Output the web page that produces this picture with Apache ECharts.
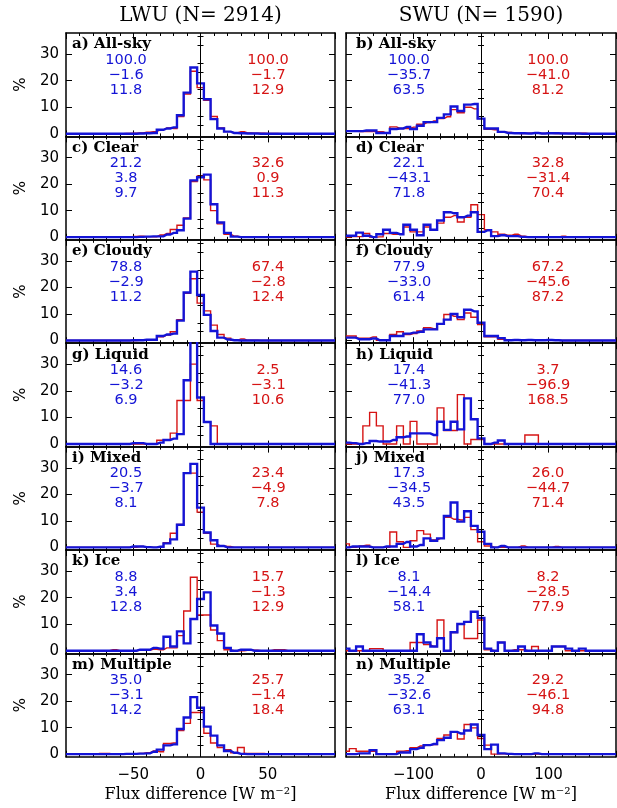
<!DOCTYPE html>
<html>
<head>
<meta charset="utf-8">
<script src="https://cdn.jsdelivr.net/npm/echarts@6.0.0/dist/echarts.min.js"></script>
<style>
html,body{margin:0;padding:0;background:#ffffff;}
#chart{width:617px;height:808px;}
</style>
</head>
<body>
<div id="chart"></div>
<script>
// ---------- bins / ticks ----------
const LW_BINS = [-100,-95,-90,-85,-80,-75,-70,-65,-60,-55,-50,-45,-40,-35,-30,-25,-20,-15,-10,-5,0,5,10,15,20,25,30,35,40,45,50,55,60,65,70,75,80,85,90,95,100];
const SW_BINS = [-200,-190,-180,-170,-160,-150,-140,-130,-120,-110,-100,-90,-80,-70,-60,-50,-40,-30,-20,-10,0,10,20,30,40,50,60,70,80,90,100,110,120,130,140,150,160,170,180,190,200];
const Y_MAJOR = [0,10,20,30];
const Y_MINOR = [3.333,6.667,13.333,16.667,23.333,26.667,33.333,36.667];
const COLUMN_TITLES = ['LWU (N= 2914)','SWU (N= 1590)'];
const X_TITLE = 'Flux difference [W m\u207B\u00B2]';

// ---------- panel texts ----------
const PANEL_LABELS = ['a) All-sky','b) All-sky','c) Clear','d) Clear','e) Cloudy','f) Cloudy','g) Liquid','h) Liquid','i) Mixed','j) Mixed','k) Ice','l) Ice','m) Multiple','n) Multiple'];
const BLUE_STATS = [
  ['100.0','-1.6','11.8'],['100.0','-35.7','63.5'],
  ['21.2','3.8','9.7'],['22.1','-43.1','71.8'],
  ['78.8','-2.9','11.2'],['77.9','-33.0','61.4'],
  ['14.6','-3.2','6.9'],['17.4','-41.3','77.0'],
  ['20.5','-3.7','8.1'],['17.3','-34.5','43.5'],
  ['8.8','3.4','12.8'],['8.1','-14.4','58.1'],
  ['35.0','-3.1','14.2'],['35.2','-32.6','63.1']
];
const RED_STATS = [
  ['100.0','-1.7','12.9'],['100.0','-41.0','81.2'],
  ['32.6','0.9','11.3'],['32.8','-31.4','70.4'],
  ['67.4','-2.8','12.4'],['67.2','-45.6','87.2'],
  ['2.5','-3.1','10.6'],['3.7','-96.9','168.5'],
  ['23.4','-4.9','7.8'],['26.0','-44.7','71.4'],
  ['15.7','-1.3','12.9'],['8.2','-28.5','77.9'],
  ['25.7','-1.4','18.4'],['29.2','-46.1','94.8']
];

// ---------- LWU histograms (% per bin, centres LW_BINS) ----------
const A_LW_BLUE = [0,0,0,0,0,0,0,0,0,0,0, 0.1,0.2,0.3,1.5,2,2.4,7,15.5,25,19, 13,5.5,2,0.8,0.3,0.2,0.1,0.1,0,0, 0,0,0,0,0,0,0,0,0,0];
const A_LW_RED  = [0,0,0,0,0,0,0,0,0,0.1,0.2, 0.3,0.6,0.8,1.5,2.2,2,6.5,15,23.6,17.4, 12.6,6.5,2.2,0.8,0.3,0.8,0.3,0.2,0.2,0.1, 0.1,0,0,0,0,0,0,0,0,0];
const C_LW_BLUE = [0,0,0,0,0,0,0,0,0,0,0, 0.1,0.2,0.3,0.3,1,1.6,2.6,7,21.4,22.6, 23.6,12.4,5.5,1.6,0.2,0,0,0,0,0, 0,0,0,0,0,0,0,0,0,0];
const C_LW_RED  = [0,0,0,0,0,0,0,0,0,0,0.3, 0.4,0.2,0.1,0.8,1.4,2.9,4.5,7.2,21,23, 21.6,10,5,1.1,0.4,0.1,0,0,0,0, 0,0,0,0,0,0,0,0,0,0];
const E_LW_BLUE = [0,0,0,0,0,0,0,0,0,0,0.1, 0.1,0.3,0.3,1.7,2.3,2.6,7.5,18.1,26,17.2, 9.7,3.6,1.1,0.4,0.1,0,0,0,0,0, 0,0,0,0,0,0,0,0,0,0];
const E_LW_RED  = [0,0,0,0,0,0,0,0,0,0,0, 0.1,0.1,0.1,1.4,2.1,3.3,7.9,17.8,23.3,14.1, 11.2,5.8,2.3,0.9,0.1,0.6,0.1,0.1,0,0, 0,0,0,0,0,0,0,0,0,0];
const G_LW_BLUE = [0,0,0,0,0,0,0,0,0,0,0.3, 0.3,0,0,0.5,1.5,2,3.7,24,39,17.5, 8.3,0,0,0,0,0,0,0,0,0, 0,0,0,0,0,0,0,0,0,0];
const G_LW_RED  = [0,0,0,0,0,0,0,0,0,0,0, 0,0,0,1.4,1.4,4.1,16.4,16.4,30.1,16.4, 8.2,6.8,0,0,0,0,0,0,0,0, 0,0,0,0,0,0,0,0,0,0];
const I_LW_BLUE = [0,0,0,0,0,0,0,0,0,0,0.3, 0.3,0.1,0,0.2,1.5,3,8.5,28,31.5,15, 5.6,2.7,0.5,0,0,0,0,0,0,0, 0,0,0,0,0,0,0,0,0,0];
const I_LW_RED  = [0,0,0,0,0,0,0,0,0,0,0, 0.3,0.1,0,0.2,1.8,5.3,8.6,28,28,13.3, 5.3,1.2,0.5,0.3,0,0,0,0,0,0, 0,0,0,0,0,0,0,0,0,0];
const K_LW_BLUE = [0,0,0,0,0,0,0,0,0,0,0, 0.4,0.4,1.1,0.8,5.3,1.6,7.3,2.8,12,19.5, 22,9.5,6.5,1.1,0,0.4,0.4,0,0,0, 0,0,0,0,0,0,0,0,0,0];
const K_LW_RED  = [0,0,0,0,0,0,0,0.4,0,0,0, 0.3,0.3,0.5,0.4,1.1,1.1,5.7,15,27.7,13.5, 13.5,7.8,3.8,0.4,0,0,0.2,0.2,0,0, 0.4,0.4,0,0,0,0,0,0,0,0];
const M_LW_BLUE = [0,0,0,0,0,0,0,0,0,0.1,0.1, 0.2,0.3,0.9,1.7,3.3,3.7,9.5,13.8,21.5,17.5, 10.4,7,3.3,1.2,0.5,0.1,0,0,0,0, 0,0,0,0,0,0,0,0,0,0];
const M_LW_RED  = [0,0,0,0,0,0.3,0.3,0,0,0,0.2, 0.3,0.5,1.2,0.9,4,4.2,8.9,11.6,15.7,15.7, 7.9,4.2,2.5,1.7,0.5,2.5,0.3,0.3,0.3,0.1, 0.1,0,0,0,0,0,0,0,0,0];

// ---------- SWU histograms (% per bin, centres SW_BINS) ----------
const B_SW_BLUE = [1,1,1,1.2,1.2,0.3,0.3,1.8,2,2.6,1.8, 3,4.4,4.4,6,7.3,10.3,8.6,11,11.2,5.7, 2,2,0.7,0.3,0.2,0.2,0.1,0.3,0.1,0.2, 0.2,0.1,0.1,0.1,0,0,0,0,0,0];
const B_SW_RED  = [1.1,1.1,0.8,0.8,0.8,0.8,0.2,2.6,2,2,2.5, 3.6,4.2,4.8,5.7,6.4,9.1,7.9,10,9.4,5.7, 1.7,1.5,0.7,0.5,0.2,0.1,0.2,0.3,0.1,0.2, 0.1,0.2,0.1,0.1,0.2,0,0,0,0,0];
const D_SW_BLUE = [0.5,0.5,1.7,0.5,0,1.1,2.8,1.6,1.1,4.7,2.8, 0.7,4.7,2.8,6.3,9.4,9,7.5,8.1,9.4,2, 2.6,0.4,0.7,0.4,0.4,0.1,0,0,0,0, 0,0,0,0,0,0,0,0,0,0];
const D_SW_RED  = [0,0.2,0.2,1.4,0,0.1,1.4,1.1,1.1,3.8,2, 2,3.8,2.6,5.3,7.5,8.1,5.7,7.5,12.2,8.5, 2.8,2,1.1,0.7,1.1,0.4,0.1,0,0,0, 0,0.4,0,0,0,0,0.1,0.1,0,0];
const F_SW_BLUE = [1.1,1.1,0.5,0.5,0.8,0.1,0.1,1.7,1.7,2.6,3, 3.3,4.2,4.2,6.3,7.9,10,8.8,11.6,11,6.7, 1.7,1.7,0.9,0.1,0.2,0.1,0.2,0.1,0.1,0.2, 0.1,0,0,0,0,0,0,0,0,0];
const F_SW_RED  = [1.7,1.7,0.9,0.9,1.4,0.1,0.1,2.3,3.3,2.3,2.6, 3.6,4.8,4.5,6.1,9.8,9.1,7.9,10.4,8.8,6, 1.4,1.4,0.5,0.2,0.1,0.1,0.1,0.1,0.1,0.1, 0.1,0,0,0,0,0,0,0,0,0];
const H_SW_BLUE = [0.5,0.3,0,0.3,1.1,0.9,0.9,1.5,2.5,2.8,4, 4,4,3.4,8.4,5.3,8.4,5.5,17.2,9.3,2.1, 0,0.5,1.3,0,0,0,0,0,0,0, 0,0,0,0,0,0,0,0,0,0];
const H_SW_RED  = [0,0,0,6.8,11.9,6.8,0,0,6.8,0,8.5, 0,0,0,13.6,5.1,5.1,18.6,0,1.7,1.7, 0,0,0,0,0,0,3.4,3.4,0,0, 0,0,0,0,0,0,0,0,0,0];
const J_SW_BLUE = [0,0.3,0.3,0.3,0,0,0.3,0.3,1.3,2,0.3, 0.9,3.4,2.5,3.4,11.8,16.9,9.7,13.6,8.1,5.9, 1.3,0,0.5,0,0,0,0,0,0,0, 0,0,0,0,0,0,0,0,0,0];
const J_SW_RED  = [1.3,0,0.5,0.8,0,0,0,5.8,2.1,0,2.5, 6.3,5,2.8,3.4,11.3,10.6,10.3,11.3,6.7,2.1, 0.5,0,0,0,0,0.5,0,0,0,0, 0.3,0,0,0,0,0,0,0,0,0];
const L_SW_BLUE = [0.8,0,1.6,0,0,0,0,0,0,0,0, 6.2,3.1,1.6,4.7,0,7,10.1,10.9,14.7,12.4, 0.8,0,3.1,0,0,1.6,0,0,0,0, 1.6,1.6,0.8,0,0.8,0,0,0,0,0];
const L_SW_RED  = [0,0,0,0,0.8,0.8,0,0,0,0,3.1, 3.1,2.3,1.6,11.6,0,6.9,10,4.6,4.6,11.6, 0.4,0,3.1,0,0.4,0.4,0,1.6,0,0, 1.6,1.6,0,0,0,0,0,0,0,0];
const N_SW_BLUE = [0,0,0.3,0.3,1.5,0,0,0,0.6,0.6,1.9, 2.4,3.4,3.8,5.3,6.2,8.4,7.8,8.9,11.2,7.2, 1.9,3.6,0.3,0.1,0,0,0,0.3,0,0, 0,0,0,0,0,0,0,0,0,0];
const N_SW_RED  = [1.1,2.1,1.1,1.1,1.1,0.1,0,0,1.1,1.3,2.4, 3.1,3.4,3.6,5.9,7.2,8.4,5.7,11.2,9.9,5.9, 3.4,0,0.1,0,0,0,0,0,0,0, 0,0,0,0,0,0,0,0,0,0];

const PANEL_BLUE = [A_LW_BLUE,B_SW_BLUE,C_LW_BLUE,D_SW_BLUE,E_LW_BLUE,F_SW_BLUE,G_LW_BLUE,H_SW_BLUE,I_LW_BLUE,J_SW_BLUE,K_LW_BLUE,L_SW_BLUE,M_LW_BLUE,N_SW_BLUE];
const PANEL_RED  = [A_LW_RED,B_SW_RED,C_LW_RED,D_SW_RED,E_LW_RED,F_SW_RED,G_LW_RED,H_SW_RED,I_LW_RED,J_SW_RED,K_LW_RED,L_SW_RED,M_LW_RED,N_SW_RED];

// ---------- layout / style ----------
const COL_LEFT = [66, 346];
const COL_WIDTH = [269, 270];
const TOP0 = 33, PH = 103.4;
const X_RANGE = [{min:-100,max:100,interval:50},{min:-200,max:200,interval:100}];
const BLUE = '#1414d6', RED = '#d61414';
const SANS = '"DejaVu Sans", sans-serif';
const SERIF = '"DejaVu Serif", serif';
const minus = s => String(s).replace('-', '\u2212');

const grids = [], xAxes = [], yAxes = [], series = [], graphics = [];

PANEL_LABELS.forEach((label, k) => {
  const col = k % 2, row = Math.floor(k / 2);
  const left = COL_LEFT[col], width = COL_WIDTH[col], top = TOP0 + row * PH;
  const bins = col === 0 ? LW_BINS : SW_BINS;
  const xr = X_RANGE[col];
  const bottomRow = row === 6;
  grids.push({left, top, width, height: PH, containLabel: false, outerBoundsMode: 'none'});
  const gi = grids.length - 1;
  const axLine = {show: true, onZero: false, lineStyle: {color: '#000', width: 1.5}};
  const tickStyle = {color: '#000', width: 1};
  xAxes.push({type: 'value', gridIndex: gi, position: 'bottom', min: xr.min, max: xr.max, interval: xr.interval,
    axisLine: axLine, axisTick: {show: true, inside: true, length: 6, lineStyle: tickStyle},
    minorTick: {show: true, splitNumber: 5, length: 3, lineStyle: tickStyle},
    splitLine: {show: false}, minorSplitLine: {show: false},
    axisLabel: {show: bottomRow, showMinLabel: false, showMaxLabel: false, margin: 11, color: '#000',
      fontFamily: SANS, fontSize: 15, formatter: v => minus(v)}});
  const xi = xAxes.length - 1;
  xAxes.push({type: 'value', gridIndex: gi, position: 'top', min: xr.min, max: xr.max, interval: xr.interval,
    axisLine: axLine, axisTick: {show: true, inside: true, length: 6, lineStyle: tickStyle},
    minorTick: {show: true, splitNumber: 5, length: 3, lineStyle: tickStyle},
    splitLine: {show: false}, minorSplitLine: {show: false}, axisLabel: {show: false}});
  yAxes.push({type: 'value', gridIndex: gi, position: 'left', min: -1, max: 38,
    axisLine: axLine, axisTick: {show: true, inside: true, length: 6, customValues: Y_MAJOR, lineStyle: tickStyle},
    splitLine: {show: false},
    axisLabel: {show: col === 0, customValues: Y_MAJOR, margin: 7, color: '#000', fontFamily: SANS, fontSize: 15}});
  const yi = yAxes.length - 1;
  yAxes.push({type: 'value', gridIndex: gi, position: 'left', min: -1, max: 38,
    axisLine: {show: false}, axisTick: {show: true, inside: true, length: 3, customValues: Y_MINOR, lineStyle: tickStyle},
    splitLine: {show: false}, axisLabel: {show: false}});
  yAxes.push({type: 'value', gridIndex: gi, position: 'right', min: -1, max: 38,
    axisLine: axLine, axisTick: {show: true, inside: true, length: 6, customValues: Y_MAJOR, lineStyle: tickStyle},
    splitLine: {show: false}, axisLabel: {show: false}});
  yAxes.push({type: 'value', gridIndex: gi, position: 'right', min: -1, max: 38,
    axisLine: {show: false}, axisTick: {show: true, inside: true, length: 3, customValues: Y_MINOR, lineStyle: tickStyle},
    splitLine: {show: false}, axisLabel: {show: false}});

  const mk = (vals, color, w, z) => ({
    type: 'line', xAxisIndex: xi, yAxisIndex: yi, step: 'middle', symbol: 'none', showSymbol: false,
    clip: true, silent: true, animation: false, z,
    data: bins.map((b, i) => [b, vals[i]]),
    lineStyle: {color, width: w, join: 'miter', cap: 'butt'}, itemStyle: {color}
  });
  const redS = mk(PANEL_RED[k], RED, 1.4, 3);
  redS.markLine = {silent: true, symbol: ['none', 'none'], animation: false, label: {show: false},
    lineStyle: {color: '#000', width: 1, type: 'solid'}, emphasis: {disabled: true}, data: [{xAxis: 0}]};
  series.push(redS);
  series.push(mk(PANEL_BLUE[k], BLUE, 2.4, 4));

  graphics.push({type: 'text', x: left + (col ? 10 : 6), y: top + 11.5, z: 10,
    style: {text: label, fill: '#000', font: 'bold 15px ' + SERIF, align: 'left', verticalAlign: 'middle'}});
  BLUE_STATS[k].forEach((s, j) => graphics.push({type: 'text', x: left + (col ? 63 : 60), y: top + 27 + j * 15, z: 10,
    style: {text: minus(s), fill: BLUE, font: '14.5px ' + SANS, align: 'center', verticalAlign: 'middle'}}));
  RED_STATS[k].forEach((s, j) => graphics.push({type: 'text', x: left + 202, y: top + 27 + j * 15, z: 10,
    style: {text: minus(s), fill: RED, font: '14.5px ' + SANS, align: 'center', verticalAlign: 'middle'}}));
  if (col === 0) {
    graphics.push({type: 'text', x: 21, y: top + PH / 2, rotation: Math.PI / 2, z: 10,
      style: {text: '%', fill: '#000', font: '15px ' + SANS, align: 'center', verticalAlign: 'middle'}});
  }
});

COLUMN_TITLES.forEach((t, c) => {
  const cx = COL_LEFT[c] + COL_WIDTH[c] / 2;
  graphics.push({type: 'text', x: cx, y: 16, style: {text: t, fill: '#000', font: '20px ' + SERIF, align: 'center', verticalAlign: 'middle'}});
  graphics.push({type: 'text', x: cx, y: 795, style: {text: X_TITLE, fill: '#000', font: '16px ' + SERIF, align: 'center', verticalAlign: 'middle'}});
});

const chart = echarts.init(document.getElementById('chart'), null, {renderer: 'canvas', width: 617, height: 808});
chart.setOption({
  animation: false,
  backgroundColor: '#ffffff',
  grid: grids, xAxis: xAxes, yAxis: yAxes, series,
  graphic: {elements: graphics}
});
</script>
</body>
</html>
